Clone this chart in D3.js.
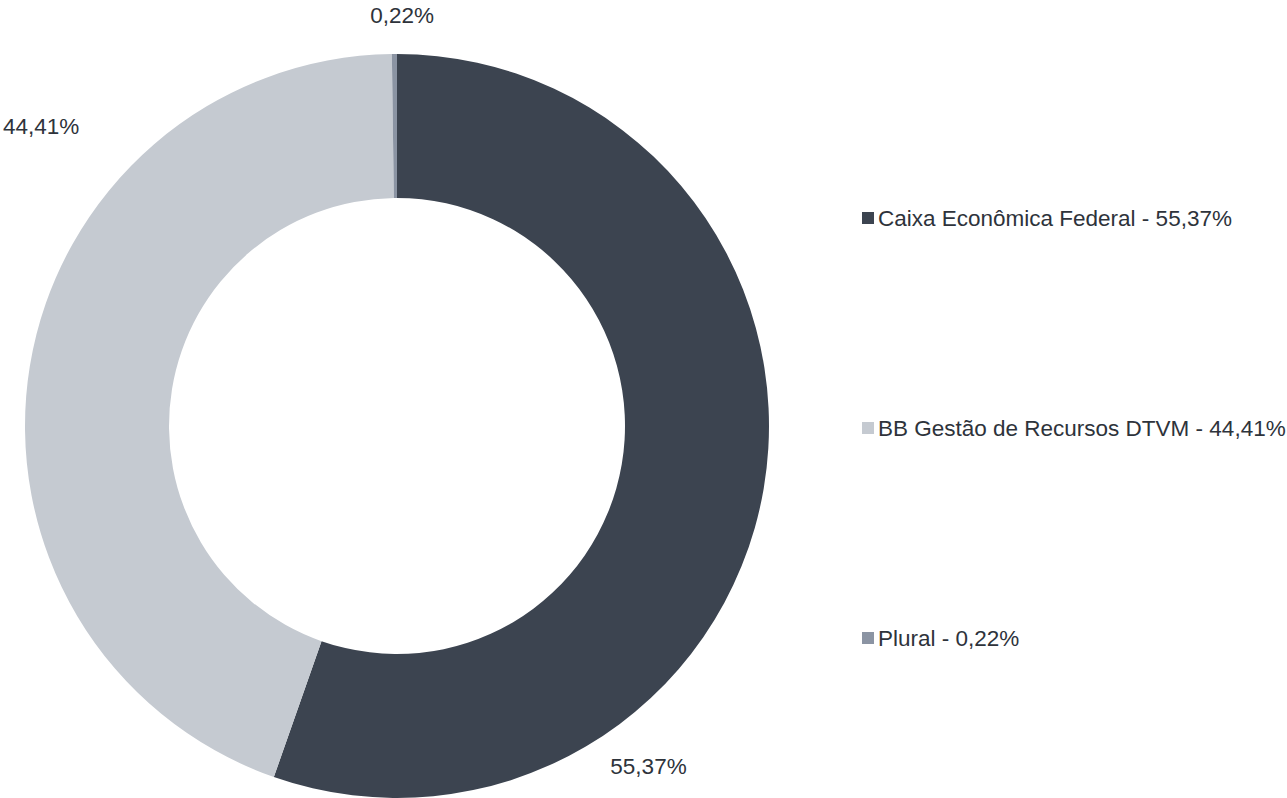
<!DOCTYPE html>
<html>
<head>
<meta charset="utf-8">
<script src="https://cdn.jsdelivr.net/npm/d3@7"></script>
<style>
  html, body { margin: 0; padding: 0; background: #fff; }
  svg text { font-family: "Liberation Sans", Arial, sans-serif; fill: #2e333b; }
</style>
</head>
<body>
<svg id="chart" width="1287" height="798"></svg>
<script>
// data
const categories = ['Caixa Econômica Federal', 'BB Gestão de Recursos DTVM', 'Plural'];
const values = [55.37, 44.41, 0.22];
const colors = ['#3c4450', '#c5cad1', '#8b94a3'];

const fmt = (v) => v.toFixed(2).replace('.', ',') + '%';

const svg = d3.select('#chart');

// Define geometry
const cx = 397;
const cy = 426;
const outerR = 372;
const innerR = 228;

const pie = d3.pie().sort(null).value((d) => d.value);
const arcs = pie(categories.map((c, i) => ({ name: c, value: values[i], color: colors[i] })));

const arc = d3.arc().innerRadius(innerR).outerRadius(outerR);

const g = svg.append('g').attr('transform', `translate(${cx}, ${cy})`);

// Add slices
g.selectAll('.slice')
  .data(arcs)
  .enter()
  .append('path')
  .attr('class', 'slice')
  .attr('d', arc)
  .style('fill', (d) => d.data.color);

// Add value labels (position within slice + radius, as in the source layout)
const labelPos = [
  { t: 0.72, r: 423 },
  { t: 0.69, r: 466 },
  { t: 1.9, r: 411 },
];

g.selectAll('.label')
  .data(arcs)
  .enter()
  .append('text')
  .attr('class', 'label')
  .attr('text-anchor', 'middle')
  .attr('dominant-baseline', 'central')
  .style('font-size', '22.5px')
  .attr('transform', (d, i) => {
    const a = d.startAngle + labelPos[i].t * (d.endAngle - d.startAngle);
    const p = d3.arc().innerRadius(labelPos[i].r).outerRadius(labelPos[i].r)
      .startAngle(a).endAngle(a).centroid();
    return `translate(${p[0] + (i === 1 ? 3 : 0)}, ${p[1] - (i === 1 ? 2 : 0)})`;
  })
  .text((d) => fmt(d.data.value));

// Add legend
const legendY = d3.scalePoint().domain(categories).range([218, 638]);

const legend = svg.selectAll('.legend')
  .data(arcs)
  .enter()
  .append('g')
  .attr('class', 'legend')
  .attr('transform', (d) => `translate(862, ${legendY(d.data.name)})`);

legend.append('rect')
  .attr('x', 0)
  .attr('y', -6)
  .attr('width', 12)
  .attr('height', 12)
  .style('fill', (d) => d.data.color);

legend.append('text')
  .attr('x', 16)
  .attr('y', 0)
  .attr('dominant-baseline', 'central')
  .style('font-size', '22.5px')
  .text((d) => `${d.data.name} - ${fmt(d.data.value)}`);
</script>
</body>
</html>
